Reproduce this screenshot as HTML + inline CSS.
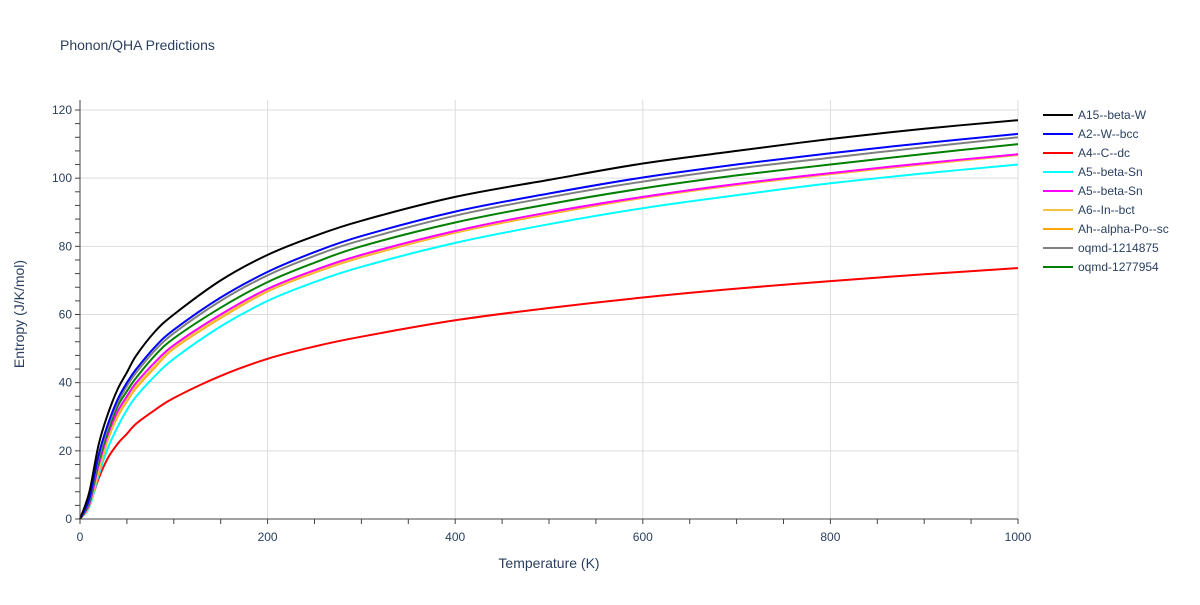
<!DOCTYPE html>
<html><head><meta charset="utf-8"><style>
body{margin:0;background:#fff;font-family:"Liberation Sans",Arial,sans-serif;}
svg text{font-family:"Liberation Sans",Arial,sans-serif;fill:#2a3f5f;}
</style></head><body>
<svg id="chart" width="1200" height="600">
<text x="60" y="50" font-size="14">Phonon/QHA Predictions</text>
<g id="grid"></g>
<g id="series"></g>
<g id="axes"></g>
<g id="legend"></g>
<text x="549" y="568" font-size="14" text-anchor="middle">Temperature (K)</text>
<text transform="translate(24,314) rotate(-90)" font-size="14" text-anchor="middle">Entropy (J/K/mol)</text>
</svg>
<script>
const temps=[0,10,20,30,40,50,60,80,100,150,200,250,300,400,500,600,700,800,900,1000];
const names=["A15--beta-W","A2--W--bcc","A4--C--dc","A5--beta-Sn","A5--beta-Sn","A6--In--bct","Ah--alpha-Po--sc","oqmd-1214875","oqmd-1277954"];
const colors=["#000000","#0000ff","#ff0000","#00ffff","#ff00ff","#f5c242","#ffa500","#808080","#008000"];
const sA15=[0,8,22,31,38,43,48,55,60,70,77.5,83,87.5,94.5,99.5,104.3,108,111.5,114.5,117];
const sA2=[0,6,19,28,35,40,44,50.5,55.5,65,72.5,78.3,83,90.2,95.5,100.2,104,107.3,110.3,113];
const sA4=[0,4,12,18,22,25,28,32,35.5,42,47,50.6,53.5,58.3,61.9,65,67.6,69.8,71.8,73.6];
const sA5a=[0,3.5,13,21,27,32,36,42,47,56.5,64,69.5,74,81,86.5,91.2,95,98.5,101.4,104];
const sA5b=[0,4.5,16,25,31.5,36,40,46,51,60,67.5,73,77.5,84.5,90,94.5,98.3,101.5,104.4,107];
const sA6=[0,4,14.5,24,30.5,35,39,45,50.3,59.3,67,72.5,77,84.2,89.7,94.3,98.1,101.3,104.2,106.8];
const sAh=[0,4,14,23.5,30,34.5,38.5,44.5,50,59,66.8,72.3,76.8,84,89.5,94.2,98,101.2,104.1,106.8];
const sQ1=[0,5.5,18,27,34,39,43,49.5,54.5,64,71.5,77.2,81.8,89,94.4,99,102.8,106,109.1,112];
const sQ2=[0,5,17,26,33,37.5,41.5,48,53,62,69.5,75.2,80,87,92.4,97,100.8,104,107.1,110];
const allSeries=[sA15,sA2,sA4,sA5a,sA5b,sA6,sAh,sQ1,sQ2];
const xTicks=[0,200,400,600,800,1000];
const yTicks=[0,20,40,60,80,100,120];
const X0=80,X1=1018,Y0=519,Y1=110;
const xs=t=>X0+t/1000*(X1-X0);
const ys=v=>Y0-v/120*(Y0-Y1);
const NS="http://www.w3.org/2000/svg";
function mk(tag,attrs,parent){const e=document.createElementNS(NS,tag);for(const k in attrs)e.setAttribute(k,attrs[k]);parent.appendChild(e);return e;}
const grid=document.getElementById('grid'),axes=document.getElementById('axes'),ser=document.getElementById('series'),leg=document.getElementById('legend');
xTicks.forEach(t=>{
 if(t>0){const l=mk('line',{x1:xs(t),x2:xs(t),y1:Y1-10,y2:Y0,stroke:'#ddd'},grid);
 
 }
 const tx=mk('text',{x:xs(t),y:Y0+22,'font-size':12,'text-anchor':'middle'},axes);tx.textContent=t;
 
 
});
for(let t=0;t<=1000;t+=50){mk('line',{x1:xs(t),x2:xs(t),y1:Y0,y2:Y0+5,stroke:'#444'},axes);}
yTicks.forEach(v=>{
 if(v>0){const l=mk('line',{x1:X0,x2:X1,y1:ys(v),y2:ys(v),stroke:'#ddd'},grid);
 
 }
 const tx=mk('text',{x:X0-8,y:ys(v)+4,'font-size':12,'text-anchor':'end'},axes);tx.textContent=v;
 
 
});
for(let v=0;v<=120;v+=4){mk('line',{x1:X0-5,x2:X0,y1:ys(v),y2:ys(v),stroke:'#444'},axes);}
mk('line',{x1:X0,x2:X0,y1:Y1-10,y2:Y0,stroke:'#444'},axes);
mk('line',{x1:X0,x2:X1,y1:Y0,y2:Y0,stroke:'#444'},axes);
function smooth(pts){
 let d='M'+pts[0][0].toFixed(1)+','+pts[0][1].toFixed(1);
 for(let i=0;i<pts.length-1;i++){
  const p0=pts[Math.max(i-1,0)],p1=pts[i],p2=pts[i+1],p3=pts[Math.min(i+2,pts.length-1)];
  const c1=[p1[0]+(p2[0]-p0[0])/6,p1[1]+(p2[1]-p0[1])/6];
  const c2=[p2[0]-(p3[0]-p1[0])/6,p2[1]-(p3[1]-p1[1])/6];
  d+='C'+c1[0].toFixed(1)+','+c1[1].toFixed(1)+' '+c2[0].toFixed(1)+','+c2[1].toFixed(1)+' '+p2[0].toFixed(1)+','+p2[1].toFixed(1);
 }
 return d;
}
const order=[2,3,6,5,4,8,7,1,0];
order.forEach(i=>{
 const pts=allSeries[i].map((v,j)=>[xs(temps[j]),ys(v)]);
 const p=mk('path',{d:smooth(pts),fill:'none',stroke:colors[i],'stroke-width':2,'stroke-linejoin':'round'},ser);
 
 
});
names.forEach((n,i)=>{
 const y=115+i*19;
 const g=mk('g',{},leg);
 
 
 mk('line',{x1:1043,x2:1073,y1:y,y2:y,stroke:colors[i],'stroke-width':2},g);
 const t=mk('text',{x:1078,y:y+4,'font-size':12},g);t.textContent=n;
});
</script>
</body></html>
